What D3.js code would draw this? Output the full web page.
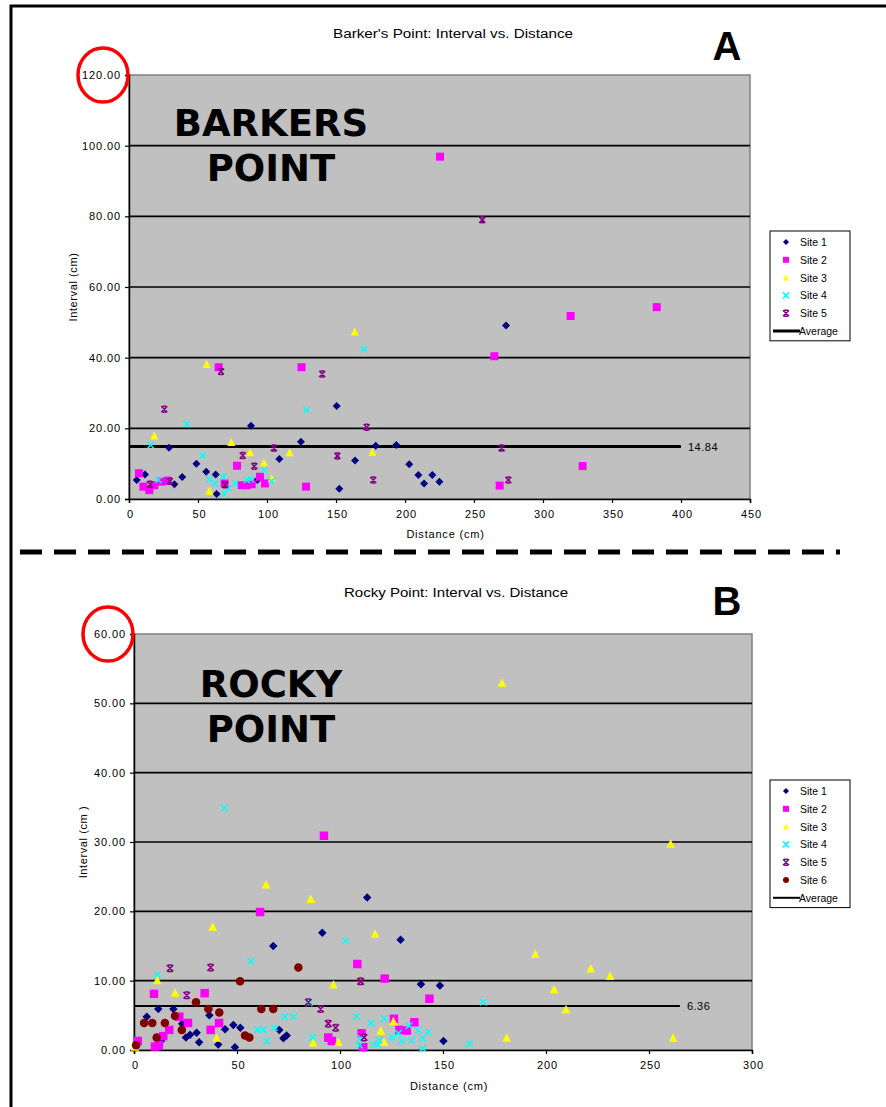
<!DOCTYPE html>
<html>
<head>
<meta charset="utf-8">
<script src="https://cdn.jsdelivr.net/npm/d3@7"></script>
<style>
  body { margin: 0; background: #fff; }
</style>
</head>
<body>
<svg id="chart" width="886" height="1107" font-family="Liberation Sans, Arial, sans-serif"></svg>
<script>
// ---- Barker's Point data: [distance, interval]
var barkerSite1 = [[5.6,5.4],[11.6,6.9],[29,14.5],[32.9,4.2],[38.6,6.2],[48.8,10.0],[56,7.7],[62.8,6.9],[63.5,1.4],[88.4,20.7],[93,5.4],[108.9,11.3],[124.6,16.2],[150.5,26.3],[152.4,2.9],[163.8,10.9],[178.8,15.1],[193.7,15.3],[203.1,9.8],[209.7,6.8],[213.8,4.4],[219.8,6.8],[224.9,4.9],[273.2,49.1]];
var barkerSite2 = [[7.2,7.3],[10.4,3.5],[14.7,2.5],[18.3,3.9],[23.6,4.9],[28,5.2],[65,37.3],[69.3,4.4],[78.3,9.4],[81.6,3.9],[85.3,3.9],[88.9,4.2],[94.9,6.3],[98.6,4.4],[125,37.3],[128.3,3.5],[225.4,96.9],[264.7,40.4],[268.6,3.8],[320,51.8],[328.7,9.3],[382.4,54.3]];
var barkerSite3 = [[18.3,18.0],[56.3,38.2],[58.2,2.3],[74.1,16.1],[87.7,13.2],[97.8,10.3],[103.4,5.9],[116.4,13.2],[163.5,47.4],[176.3,13.4]];
var barkerSite4 = [[15.7,15.3],[21.3,5.4],[41.8,21.2],[53.4,12.3],[58.2,5.6],[62.3,4.4],[68.4,6.3],[69.1,1.4],[72,3.0],[76.8,4.4],[85.3,5.4],[88.2,5.6],[98,8.2],[103.4,5.0],[128.7,25.2],[170.3,42.4]];
var barkerSite5 = [[15.2,4.2],[25.6,25.4],[29.6,5.0],[66.7,36.1],[69.5,4.0],[82.4,12.3],[90.8,9.3],[105,14.4],[140,35.4],[151,12.2],[172.2,20.3],[177,5.4],[256,79.0],[270,14.4],[274.9,5.4]];
var barkerAverage = 14.84;
var barkerAvgRange = [0, 400];

// ---- Rocky Point data
var rockySite1 = [[6.2,4.8],[11.8,5.9],[13.1,1.3],[19.1,5.9],[23.4,3.8],[25.2,1.8],[27.2,2.2],[30.4,2.5],[31.6,1.1],[36.6,5.0],[40.9,0.8],[44.2,3.0],[48.2,3.6],[49,0.4],[51.6,3.2],[67.6,15.0],[70.5,2.9],[72.5,1.7],[74.1,2.1],[91.4,16.9],[113.2,22.0],[129.4,15.9],[139.3,9.5],[148.5,9.3],[150.2,1.3]];
var rockySite2 = [[1.8,1.3],[9.7,8.1],[10.2,0.5],[12.1,0.7],[14.2,2.0],[17.1,2.9],[22,4.8],[26.2,3.9],[34.3,8.2],[37.2,2.9],[41.3,3.9],[61.2,19.9],[92.2,30.9],[94.3,1.8],[96,1.3],[108.4,12.4],[110.5,2.4],[111.3,0.4],[121.7,10.3],[126.2,4.5],[128.8,2.9],[132.4,2.8],[136.1,4.0],[143.4,7.4]];
var rockySite3 = [[0.5,0.5],[11.3,10.1],[20,8.3],[38.2,17.8],[40.1,1.8],[64.1,23.9],[85.8,21.8],[87,1.1],[96.8,9.5],[99.2,1.2],[117,16.8],[119.8,2.8],[121.4,1.2],[125.9,4.2],[178.6,53.0],[180.9,1.8],[194.8,13.9],[203.9,8.8],[209.7,5.9],[221.7,11.8],[231.1,10.7],[260.5,29.8],[261.7,1.8]];
var rockySite4 = [[11.3,10.9],[43.8,34.9],[56.8,12.8],[59.9,2.9],[62.8,2.9],[64.4,1.3],[68.1,3.2],[73.1,4.8],[77.5,4.8],[85,6.8],[86.7,1.8],[102.8,15.8],[108.1,4.8],[109.4,0.7],[110,1.7],[115,3.9],[116.2,0.8],[118.3,0.8],[118.9,1.4],[121.4,4.5],[125.4,1.8],[128.3,2.4],[130,1.3],[133.5,3.5],[134.8,1.4],[138,2.8],[140,1.7],[140.1,0.2],[142.9,2.6],[162.8,0.9],[169.6,6.9]];
var rockySite5 = [[17.5,11.8],[25.6,7.9],[37.2,11.9],[84.6,6.9],[90.6,5.9],[94.3,3.8],[97.9,3.2],[110,9.9],[111.7,1.8]];
var rockySite6 = [[1.0,0.7],[4.9,3.9],[8.9,3.9],[11,1.8],[15,3.9],[19.9,4.9],[23.2,2.9],[30.1,6.9],[36.1,5.9],[41.4,5.4],[51.5,9.9],[53.9,2.1],[56,1.8],[61.8,5.9],[67.6,5.9],[79.8,11.9]];
var rockyAverage = 6.36;
var rockyAvgRange = [0, 265];

var siteNames = ["Site 1", "Site 2", "Site 3", "Site 4", "Site 5", "Site 6"];
var barkerXTicks = [0, 50, 100, 150, 200, 250, 300, 350, 400, 450];
var barkerYTicks = [0, 20, 40, 60, 80, 100, 120];
var rockyXTicks = [0, 50, 100, 150, 200, 250, 300];
var rockyYTicks = [0, 10, 20, 30, 40, 50, 60];

var markerStyle = [
    {shape: "diamond", color: "#000080"},
    {shape: "square", color: "#ff00ff"},
    {shape: "triangle", color: "#ffff00"},
    {shape: "cross", color: "#00ffff"},
    {shape: "star", color: "#800080"},
    {shape: "circle", color: "#800000"}
];

var svg = d3.select("#chart");

function markerPath(shape, s) {
    var h = s / 2, b = s * 0.3;
    switch (shape) {
        case "diamond":
            return "M0," + (-h) + "L" + h + ",0L0," + h + "L" + (-h) + ",0Z";
        case "square":
            return "M" + (-h) + "," + (-h) + "h" + s + "v" + s + "h" + (-s) + "Z";
        case "triangle":
            return "M0," + (-h) + "L" + h + "," + h + "L" + (-h) + "," + h + "Z";
        case "cross":
            return "M" + (-h) + "," + (-h) + "L" + h + "," + h + "M" + h + "," + (-h) + "L" + (-h) + "," + h;
        case "star":
            return "M" + (-h) + "," + (-h) + "L" + h + "," + h + "M" + h + "," + (-h) + "L" + (-h) + "," + h +
                "M" + (-b) + "," + (-h) + "H" + b + "M" + (-b) + "," + h + "H" + b;
        default:
            return "M" + h + ",0A" + h + "," + h + " 0 1,1 " + (-h) + ",0A" + h + "," + h + " 0 1,1 " + h + ",0Z";
    }
}

function drawMarker(g, style, s) {
    var p = g.append("path").attr("d", markerPath(style.shape, s));
    if (style.shape == "cross" || style.shape == "star") {
        p.attr("fill", "none").attr("stroke", style.color).attr("stroke-width", 1.5);
    } else {
        p.attr("fill", style.color);
    }
    return p;
}

function drawChart(c) {
    var x = d3.scaleLinear().domain(c.xDomain).range([c.left, c.right]);
    var y = d3.scaleLinear().domain(c.yDomain).range([c.bottom, c.top]);
    var g = svg.append("g");

    g.append("text").attr("x", c.titleX).attr("y", c.titleY)
        .attr("text-anchor", "middle").attr("font-size", 12)
        .attr("textLength", c.titleLen).attr("lengthAdjust", "spacingAndGlyphs").text(c.title);

    g.append("rect")
        .attr("x", c.left).attr("y", c.top)
        .attr("width", c.right - c.left).attr("height", c.bottom - c.top)
        .attr("fill", "#c0c0c0").attr("stroke", "#808080").attr("stroke-width", 1.5);

    g.selectAll("line.grid")
        .data(c.yTicks.filter(function(d) { return d > 0 && d < c.yDomain[1]; }))
        .enter().append("line")
        .attr("x1", c.left).attr("x2", c.right)
        .attr("y1", function(d) { return y(d); }).attr("y2", function(d) { return y(d); })
        .attr("stroke", "#000").attr("stroke-width", 1.6);

    // big site label in plot
    c.label.forEach(function(t, i) {
        g.append("text").attr("x", c.labelX).attr("y", c.labelY + i * 45)
            .attr("text-anchor", "middle")
            .attr("font-family", "DejaVu Sans").attr("font-weight", "bold")
            .attr("font-size", 37).text(t);
    });

    var yAxis = g.append("g").attr("transform", "translate(" + c.left + ",0)")
        .call(d3.axisLeft(y).tickValues(c.yTicks).tickSize(4).tickPadding(4).tickFormat(d3.format(".2f")));
    var xAxis = g.append("g").attr("transform", "translate(0," + c.bottom + ")")
        .call(d3.axisBottom(x).tickValues(c.xTicks).tickSize(4).tickPadding(7));
    [xAxis, yAxis].forEach(function(a) {
        a.select(".domain").attr("stroke", "#000").attr("stroke-width", 1.5);
        a.selectAll(".tick line").attr("stroke", "#000").attr("stroke-width", 1.2);
        a.selectAll(".tick text").attr("font-family", null).attr("font-size", 11)
            .attr("letter-spacing", 0.9).attr("fill", "#000");
    });
    xAxis.selectAll(".tick text").attr("dx", 1);

    g.append("text").attr("x", (c.left + c.right) / 2 + 6).attr("y", c.bottom + c.xTitleDy)
        .attr("text-anchor", "middle").attr("font-size", 11).attr("letter-spacing", 0.8).text("Distance (cm)");
    g.append("text")
        .attr("transform", "translate(" + c.yTitleX + "," + (c.top + c.bottom) / 2 + ") rotate(-90)")
        .attr("text-anchor", "middle").attr("font-size", 11).attr("letter-spacing", 0.6).text(c.yTitle);

    // average line
    g.append("line")
        .attr("x1", x(c.avgRange[0])).attr("x2", x(c.avgRange[1]))
        .attr("y1", y(c.average)).attr("y2", y(c.average))
        .attr("stroke", "#000").attr("stroke-width", c.avgWidth);
    g.append("text").attr("x", x(c.avgRange[1]) + 7).attr("y", y(c.average) + 4)
        .attr("font-size", 11).attr("letter-spacing", 0.5).text(d3.format(".2f")(c.average));

    // points
    c.series.forEach(function(data, i) {
        var st = markerStyle[i];
        var s = st.shape == "cross" || st.shape == "star" ? c.size - 2 : c.size;
        g.selectAll("g.s" + i).data(data).enter().append("g")
            .attr("transform", function(d) { return "translate(" + x(d[0]) + "," + y(d[1]) + ")"; })
            .each(function() { drawMarker(d3.select(this), st, s); });
    });

    // legend
    var n = c.series.length + 1;
    var lg = g.append("g").attr("transform", "translate(" + c.legendX + "," + c.legendY + ")");
    lg.append("rect").attr("width", 80).attr("height", n * 17.8 + 3)
        .attr("fill", "#fff").attr("stroke", "#000").attr("stroke-width", 1);
    c.series.forEach(function(d, i) {
        var row = lg.append("g").attr("transform", "translate(16," + (11 + i * 17.8) + ")");
        drawMarker(row, markerStyle[i], 6);
        row.append("text").attr("x", 14).attr("y", 4).attr("font-size", 10.5).text(siteNames[i]);
    });
    var ar = lg.append("g").attr("transform", "translate(0," + (11 + c.series.length * 17.8) + ")");
    ar.append("line").attr("x1", 3).attr("x2", 30).attr("stroke", "#000").attr("stroke-width", c.avgWidth);
    ar.append("text").attr("x", 29).attr("y", 4).attr("font-size", 10.5).text("Average");

    // panel letter
    g.append("text").attr("x", c.letterX).attr("y", c.letterY)
        .attr("font-size", 40).attr("font-weight", "bold")
        .attr("text-anchor", "middle").text(c.letter);

    // red circle on top tick label
    g.append("ellipse").attr("cx", c.left - 26).attr("cy", c.top)
        .attr("rx", 25).attr("ry", 27)
        .attr("fill", "none").attr("stroke", "#ff0000").attr("stroke-width", 3.5);
}

// frame
svg.append("path").attr("d", "M11,1107V6H886").attr("fill", "none").attr("stroke", "#000").attr("stroke-width", 3);

drawChart({
    title: "Barker's Point: Interval vs. Distance", titleX: 453, titleY: 38, titleLen: 240,
    left: 129, right: 750, top: 75, bottom: 499,
    xDomain: [0, 450], yDomain: [0, 120], xTicks: barkerXTicks, yTicks: barkerYTicks,
    yTitle: "Interval (cm)", yTitleX: 77, xTitleDy: 39,
    label: ["BARKERS", "POINT"], labelX: 271, labelY: 136,
    series: [barkerSite1, barkerSite2, barkerSite3, barkerSite4, barkerSite5],
    average: barkerAverage, avgRange: barkerAvgRange, avgWidth: 3, size: 8,
    legendX: 770, legendY: 231, letter: "A", letterX: 727, letterY: 60
});

// dashed separator
svg.append("line").attr("x1", 20).attr("x2", 840).attr("y1", 552).attr("y2", 552)
    .attr("stroke", "#000").attr("stroke-width", 5).attr("stroke-dasharray", "22,12");

drawChart({
    title: "Rocky Point: Interval vs. Distance", titleX: 456, titleY: 597, titleLen: 224,
    left: 134, right: 752, top: 634, bottom: 1050,
    xDomain: [0, 300], yDomain: [0, 60], xTicks: rockyXTicks, yTicks: rockyYTicks,
    yTitle: "Interval (cm )", yTitleX: 87, xTitleDy: 40,
    label: ["ROCKY", "POINT"], labelX: 271, labelY: 697,
    series: [rockySite1, rockySite2, rockySite3, rockySite4, rockySite5, rockySite6],
    average: rockyAverage, avgRange: rockyAvgRange, avgWidth: 2, size: 8.5,
    legendX: 770, legendY: 780, letter: "B", letterX: 727, letterY: 615
});
</script>
</body>
</html>
